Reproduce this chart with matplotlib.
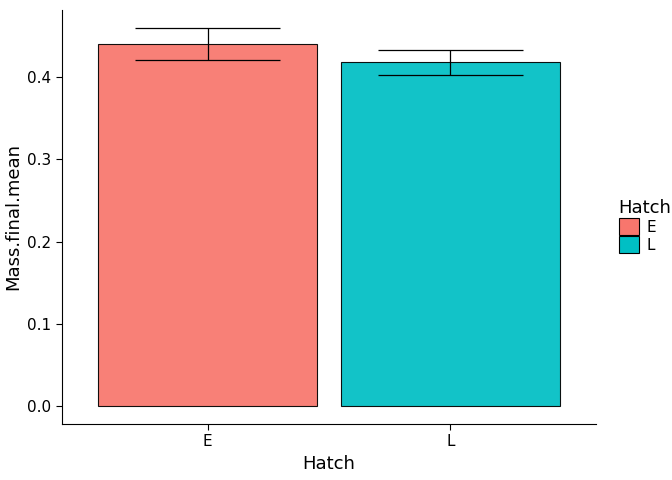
import matplotlib.pyplot as plt
from matplotlib.patches import Patch

hatch = ['E', 'L']
mass_mean = [0.4401, 0.4182]
err_low = [0.4207, 0.4024]
err_high = [0.4596, 0.4328]
colors = ['#F8766D', '#00BFC4']

fig = plt.figure(figsize=(6.72, 4.8), dpi=100)
ax = fig.add_axes([62 / 672, 56 / 480, 534 / 672, 414 / 480])

x = [1, 2]
ax.bar(x, mass_mean, width=0.9, color=colors, edgecolor='black', linewidth=0.8, alpha=0.93)
ax.vlines(x, err_low, err_high, color='black', linewidth=0.9)
for xi, lo, hi in zip(x, err_low, err_high):
    ax.hlines([lo, hi], xi - 0.3, xi + 0.3, color='black', linewidth=0.9)

ax.set_xlim(0.4, 2.6)
ax.set_ylim(-0.0219, 0.4815)
ax.set_xticks(x)
ax.set_xticklabels(hatch)
ax.set_yticks([0.0, 0.1, 0.2, 0.3, 0.4])
ax.set_yticklabels(['0.0', '0.1', '0.2', '0.3', '0.4'])
ax.tick_params(labelsize=11, colors='black', length=4)
ax.set_xlabel('Hatch', fontsize=13)
ax.set_ylabel('Mass.final.mean', fontsize=13)
for s in ['top', 'right']:
    ax.spines[s].set_visible(False)

handles = [Patch(facecolor=c, edgecolor='black', linewidth=0.8) for c in colors]
leg = fig.legend(handles, hatch, title='Hatch', loc='upper left',
                 bbox_to_anchor=(605 / 672, 1 - 185 / 480), frameon=False,
                 fontsize=11, title_fontsize=13, handlelength=1.3, handleheight=1.3,
                 handletextpad=0.5, labelspacing=0.1)
leg._legend_box.align = 'left'

fig.savefig('out.png', dpi=100)
